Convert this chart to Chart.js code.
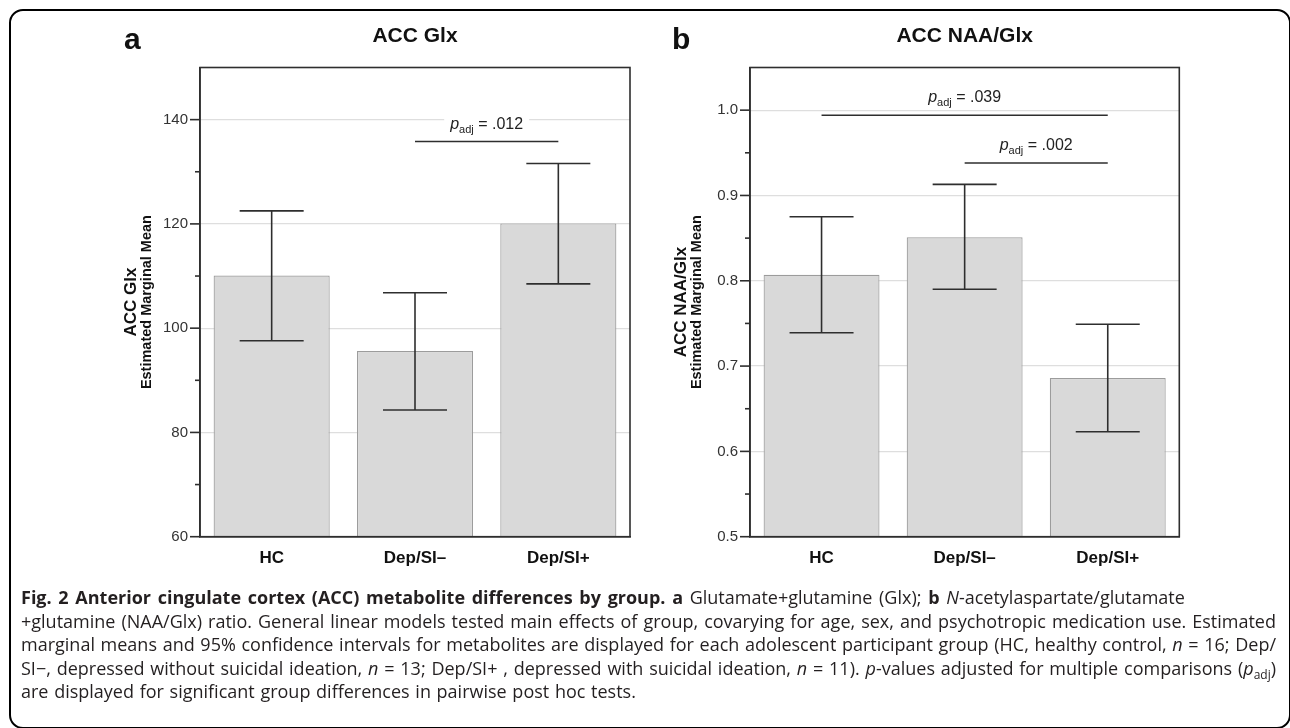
<!DOCTYPE html>
<html>
<head>
<meta charset="utf-8">
<script src="https://cdn.jsdelivr.net/npm/chart.js@4.4.1/dist/chart.umd.min.js"></script>
<style>
  body { margin: 0; width: 1290px; height: 728px; overflow: hidden; background: #fff; position: relative; }
  .frame { position: absolute; left: 9px; top: 9px; width: 1282px; height: 720px; border: 2.5px solid #000; border-radius: 14px; box-sizing: border-box; }
  canvas { position: absolute; top: 0; }
  #chartA { left: 0; }
  #chartB { left: 640px; }
  .caption { position: absolute; left: 21px; top: 586px; width: 1255px; font-family: "Open Sans", sans-serif; font-size: 18px; line-height: 23.5px; color: #231f20; }
  .caption div { white-space: nowrap; }
  .caption .j { text-align: justify; text-align-last: justify; }
  .caption .first { word-spacing: 2px; }
  .caption .last { word-spacing: 1px; }
  .caption sub { font-size: 12px; vertical-align: -4px; line-height: 0; }
</style>
</head>
<body>
<div class="frame"></div>
<canvas id="chartA" width="640" height="590"></canvas>
<canvas id="chartB" width="650" height="590"></canvas>
<div class="caption">
  <div class="first"><b>Fig. 2 Anterior cingulate cortex (ACC) metabolite differences by group. a</b> Glutamate+glutamine (Glx); <b>b</b> <i>N</i>-acetylaspartate/glutamate</div>
  <div class="j">+glutamine (NAA/Glx) ratio. General linear models tested main effects of group, covarying for age, sex, and psychotropic medication use. Estimated</div>
  <div class="j">marginal means and 95% confidence intervals for metabolites are displayed for each adolescent participant group (HC, healthy control, <i>n</i> = 16; Dep/</div>
  <div class="j">SI−, depressed without suicidal ideation, <i>n</i> = 13; Dep/SI+ , depressed with suicidal ideation, <i>n</i> = 11). <i>p</i>-values adjusted for multiple comparisons (<i>p</i><sub>adj</sub>)</div>
  <div class="last">are displayed for significant group differences in pairwise post hoc tests.</div>
</div>
<script>
const groups = ['HC', 'Dep/SI–', 'Dep/SI+'];

// panel a: ACC Glx
const glxMean = [110.1, 95.6, 120.1];
const glxLow = [97.6, 84.3, 108.5];
const glxHigh = [122.5, 106.8, 131.6];
const glxTicks = [60, 80, 100, 120, 140];
// [from group, to group, height on y scale, p value]
const glxPairs = [[1, 2, 135.8, '.012']];

// panel b: ACC NAA/Glx
const ratioMean = [0.807, 0.851, 0.686];
const ratioLow = [0.739, 0.790, 0.623];
const ratioHigh = [0.875, 0.913, 0.749];
const ratioTicks = [0.5, 0.6, 0.7, 0.8, 0.9, 1.0];
const ratioPairs = [[0, 2, 0.994, '.039'], [1, 2, 0.938, '.002']];

const FONT = '"Liberation Sans", Arial, sans-serif';
const DARK = '#2e2e2e';

function isLabeled(list, v) {
  return list.some(t => Math.abs(t - v) < 1e-6);
}

function hline(ctx, x1, x2, y) {
  ctx.beginPath(); ctx.moveTo(x1, y); ctx.lineTo(x2, y); ctx.stroke();
}

// draws frame, tick marks, error bars, p-value brackets and the titles
function decor(cfg) {
  return {
    id: 'decor',
    afterDatasetsDraw(chart) {
      const ctx = chart.ctx;
      const area = chart.chartArea;
      const x = chart.scales.x, y = chart.scales.y;
      ctx.save();
      ctx.strokeStyle = DARK;
      ctx.lineWidth = 1.6;

      // error bars
      cfg.low.forEach((lo, i) => {
        const cx = x.getPixelForValue(i);
        const yl = y.getPixelForValue(lo), yh = y.getPixelForValue(cfg.high[i]);
        ctx.beginPath(); ctx.moveTo(cx, yl); ctx.lineTo(cx, yh); ctx.stroke();
        hline(ctx, cx - 32, cx + 32, yl);
        hline(ctx, cx - 32, cx + 32, yh);
      });

      // frame round the plot
      ctx.strokeRect(area.left, area.top, area.right - area.left, area.bottom - area.top);

      // y tick marks, long on labelled values
      y.ticks.forEach(t => {
        if (t.value >= y.max - 1e-9) return;
        const py = y.getPixelForValue(t.value);
        const len = isLabeled(cfg.ticks, t.value) ? 10 : 5;
        hline(ctx, area.left - len, area.left, py);
      });

      // significance brackets
      cfg.pairs.forEach(p => {
        const x1 = x.getPixelForValue(p[0]), x2 = x.getPixelForValue(p[1]);
        const py = y.getPixelForValue(p[2]);
        hline(ctx, x1, x2, py);
        const cx = (x1 + x2) / 2;
        const base = py - 13;
        ctx.font = 'italic 16px ' + FONT;
        const wp = ctx.measureText('p').width;
        ctx.font = '11px ' + FONT;
        const ws = ctx.measureText('adj').width;
        ctx.font = '16px ' + FONT;
        const rest = ' = ' + p[3];
        const wr = ctx.measureText(rest).width;
        const w = wp + ws + wr;
        let sx = cx - w / 2;
        ctx.fillStyle = '#fff';
        ctx.fillRect(sx - 6, base - 15, w + 12, 21);
        ctx.fillStyle = '#222';
        ctx.textBaseline = 'alphabetic';
        ctx.textAlign = 'left';
        ctx.font = 'italic 16px ' + FONT;
        ctx.fillText('p', sx, base);
        ctx.font = '11px ' + FONT;
        ctx.fillText('adj', sx + wp, base + 4);
        ctx.font = '16px ' + FONT;
        ctx.fillText(rest, sx + wp + ws, base);
      });

      // panel letter and title
      ctx.fillStyle = '#111';
      ctx.font = 'bold 30px ' + FONT;
      ctx.fillText(cfg.letter, cfg.letterX, 49);
      ctx.textAlign = 'center';
      ctx.textBaseline = 'middle';
      ctx.font = 'bold 21px ' + FONT;
      ctx.fillText(cfg.title, (area.left + area.right) / 2, 36);

      // two-line y axis title
      const midY = (area.top + area.bottom) / 2;
      ctx.save();
      ctx.translate(area.left - 69, midY);
      ctx.rotate(-Math.PI / 2);
      ctx.font = 'bold 17px ' + FONT;
      ctx.fillText(cfg.yTitle, 0, 0);
      ctx.restore();
      ctx.save();
      ctx.translate(area.left - 53, midY);
      ctx.rotate(-Math.PI / 2);
      ctx.font = 'bold 14.5px ' + FONT;
      ctx.fillText('Estimated Marginal Mean', 0, 0);
      ctx.restore();

      ctx.restore();
    }
  };
}

function makeChart(id, means, cfg) {
  return new Chart(id, {
    type: 'bar',
    data: {
      labels: groups,
      datasets: [{
        data: means,
        backgroundColor: '#d9d9d9',
        borderColor: '#9c9c9c',
        borderWidth: 1.2,
        barPercentage: 0.81,
        categoryPercentage: 1
      }]
    },
    options: {
      responsive: false,
      animation: false,
      layout: { padding: { left: 0, right: cfg.padRight, top: 67.5, bottom: 13.3 } },
      plugins: { legend: { display: false }, tooltip: { enabled: false } },
      scales: {
        x: {
          grid: { display: false, drawTicks: false },
          border: { display: true, color: DARK, width: 1.6 },
          ticks: { color: '#111', padding: 11, font: { family: FONT, size: 17, weight: 'bold' } },
          afterFit: s => { s.height = 40; }
        },
        y: {
          min: cfg.min,
          max: cfg.max,
          ticks: {
            stepSize: cfg.step,
            padding: 12,
            color: '#333',
            font: { family: FONT, size: 15 },
            callback: v => isLabeled(cfg.ticks, v) ? cfg.fmt(v) : ''
          },
          grid: {
            drawTicks: false,
            lineWidth: 1.2,
            color: c => (isLabeled(cfg.ticks, c.tick.value) && c.tick.value > cfg.min) ? '#dedede' : 'rgba(0,0,0,0)'
          },
          border: { display: true, color: DARK, width: 1.6 },
          afterFit: s => { s.width = cfg.axisWidth; }
        }
      }
    },
    plugins: [decor(cfg)]
  });
}

makeChart('chartA', glxMean, {
  low: glxLow, high: glxHigh, ticks: glxTicks, pairs: glxPairs,
  min: 60, max: 150, step: 10, fmt: v => String(v),
  axisWidth: 200, padRight: 10,
  letter: 'a', letterX: 124, title: 'ACC Glx', yTitle: 'ACC Glx'
});

makeChart('chartB', ratioMean, {
  low: ratioLow, high: ratioHigh, ticks: ratioTicks, pairs: ratioPairs,
  min: 0.5, max: 1.05, step: 0.05, fmt: v => v.toFixed(1),
  axisWidth: 110, padRight: 110.7,
  letter: 'b', letterX: 32, title: 'ACC NAA/Glx', yTitle: 'ACC NAA/Glx'
});
</script>
</body>
</html>
